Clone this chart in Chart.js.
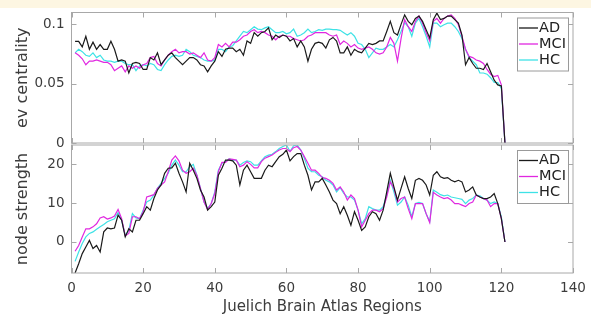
<!DOCTYPE html>
<html>
<head>
<meta charset="utf-8">
<title>Juelich Brain Atlas Regions</title>
<script src="https://cdn.jsdelivr.net/npm/chart.js@4/dist/chart.umd.min.js"></script>
<style>
    body { margin: 0; background: #fff; }
    #wrap { position: relative; width: 591px; height: 316px; overflow: hidden; }
    #band { position: absolute; left: 0; top: 0; width: 591px; height: 8px; background: #fdf6e2; }
    #topBox { position: absolute; left: 0; top: 0; width: 591px; height: 160px; }
    #bottomBox { position: absolute; left: 0; top: 143px; width: 591px; height: 173px; }
</style>
</head>
<body>
<div id="wrap">
    <div id="band"></div>
    <div id="topBox"><canvas id="topChart"></canvas></div>
    <div id="bottomBox"><canvas id="bottomChart"></canvas></div>
</div>
<script>
// region index ticks and y ticks
const xTicks = [0, 20, 40, 60, 80, 100, 120, 140];
const centralityTicks = [0, 0.05, 0.1];
const strengthTicks = [0, 10, 20];
const groups = ["AD", "MCI", "HC"];
const groupColors = ["#1a1a1a", "#e028e0", "#3ee2e6"];

// ev centrality per region (1..121)
const adCentrality = [
    0.0857, 0.0857, 0.081, 0.090, 0.079, 0.085, 0.079, 0.083, 0.079, 0.079,
    0.0857, 0.079, 0.069, 0.070, 0.069, 0.059, 0.067, 0.068, 0.067, 0.062,
    0.062, 0.072, 0.070, 0.076, 0.066, 0.070, 0.074, 0.076, 0.072, 0.069,
    0.066, 0.069, 0.072, 0.072, 0.070, 0.066, 0.065, 0.060, 0.065, 0.069,
    0.077, 0.073, 0.079, 0.080, 0.080, 0.077, 0.079, 0.074, 0.086, 0.084,
    0.093, 0.090, 0.093, 0.094, 0.097, 0.087, 0.091, 0.089, 0.091, 0.090,
    0.086, 0.088, 0.081, 0.086, 0.081, 0.069, 0.079, 0.084, 0.085, 0.084,
    0.080, 0.087, 0.089, 0.086, 0.076, 0.076, 0.081, 0.074, 0.079, 0.077,
    0.076, 0.080, 0.084, 0.083, 0.084, 0.086, 0.086, 0.094, 0.1025, 0.093,
    0.091, 0.100, 0.108, 0.1025, 0.0997, 0.105, 0.107, 0.1025, 0.0955, 0.0885,
    0.104, 0.1095, 0.104, 0.105, 0.107, 0.107, 0.104, 0.101, 0.091, 0.066,
    0.072, 0.067, 0.063, 0.063, 0.062, 0.067, 0.060, 0.053, 0.049, 0.048,
    0
];
const mciCentrality = [
    0.076, 0.074, 0.071, 0.066, 0.069, 0.069, 0.070, 0.069, 0.068, 0.068,
    0.066, 0.061, 0.063, 0.065, 0.060, 0.065, 0.063, 0.065, 0.063, 0.066,
    0.067, 0.072, 0.073, 0.067, 0.065, 0.070, 0.074, 0.077, 0.079, 0.076,
    0.077, 0.077, 0.075, 0.076, 0.074, 0.072, 0.076, 0.070, 0.069, 0.072,
    0.083, 0.081, 0.084, 0.081, 0.085, 0.085, 0.087, 0.090, 0.091, 0.094,
    0.0955, 0.093, 0.094, 0.093, 0.091, 0.090, 0.087, 0.090, 0.091, 0.090,
    0.090, 0.088, 0.087, 0.086, 0.087, 0.090, 0.091, 0.093, 0.093, 0.093,
    0.093, 0.091, 0.090, 0.091, 0.083, 0.086, 0.084, 0.081, 0.083, 0.080,
    0.079, 0.080, 0.081, 0.079, 0.076, 0.075, 0.076, 0.081, 0.089, 0.084,
    0.069, 0.088, 0.104, 0.098, 0.094, 0.1025, 0.107, 0.101, 0.093, 0.086,
    0.1025, 0.105, 0.101, 0.105, 0.107, 0.108, 0.105, 0.0997, 0.090, 0.079,
    0.073, 0.072, 0.070, 0.069, 0.067, 0.062, 0.058, 0.056, 0.057, 0.049,
    0
];
const hcCentrality = [
    0.076, 0.079, 0.077, 0.074, 0.073, 0.076, 0.072, 0.074, 0.070, 0.069,
    0.069, 0.068, 0.069, 0.069, 0.067, 0.066, 0.066, 0.061, 0.065, 0.066,
    0.065, 0.067, 0.066, 0.062, 0.061, 0.066, 0.070, 0.073, 0.074, 0.073,
    0.074, 0.079, 0.077, 0.074, 0.073, 0.072, 0.070, 0.069, 0.069, 0.070,
    0.079, 0.079, 0.077, 0.081, 0.082, 0.086, 0.090, 0.094, 0.093, 0.0955,
    0.098, 0.096, 0.0955, 0.097, 0.098, 0.0955, 0.093, 0.093, 0.094, 0.092,
    0.093, 0.096, 0.090, 0.091, 0.093, 0.096, 0.093, 0.094, 0.0955, 0.095,
    0.096, 0.096, 0.0955, 0.0955, 0.095, 0.093, 0.091, 0.093, 0.090, 0.084,
    0.083, 0.079, 0.072, 0.076, 0.080, 0.079, 0.079, 0.081, 0.083, 0.081,
    0.087, 0.094, 0.1015, 0.098, 0.090, 0.101, 0.105, 0.098, 0.090, 0.081,
    0.101, 0.101, 0.098, 0.0997, 0.101, 0.101, 0.098, 0.094, 0.088, 0.079,
    0.072, 0.069, 0.066, 0.059, 0.059, 0.058, 0.055, 0.051, 0.051, 0.046,
    0
];

// node strength per region (1..121)
const adStrength = [
    -8, -5.6, -3.0, -1.3, 0.4, -1.7, -0.9, -2.6, 2.6, 3.6,
    3.4, 3.6, 6.9, 5.6, 1.3, 3.4, 2.6, 5.6, 5.6, 7.3,
    9.1, 8.2, 11.2, 13.4, 14.7, 17.7, 19.0, 19.1, 20.3, 17.7,
    15.5, 12.9, 20.3, 18.5, 16.4, 13.4, 11.6, 8.2, 9.1, 10.3,
    17.2, 19.0, 21.1, 21.1, 20.9, 19.8, 14.7, 18.5, 19.8, 18.1,
    16.4, 16.4, 16.4, 18.5, 19.8, 19.4, 20.7, 22.0, 22.6, 23.7,
    20.9, 22.0, 22.8, 22.8, 19.8, 17.2, 13.4, 15.5, 15.5, 16.4,
    14.7, 12.9, 10.8, 9.9, 7.3, 9.1, 6.9, 4.3, 7.8, 5.6,
    3.0, 3.9, 6.5, 7.8, 7.3, 5.6, 8.2, 12.9, 17.7, 14.2,
    10.8, 13.8, 16.8, 13.8, 11.2, 15.9, 16.4, 15.9, 14.7, 12.1,
    17.2, 18.1, 16.8, 16.4, 16.6, 15.9, 15.5, 15.9, 15.5, 12.9,
    13.4, 14.2, 12.1, 11.6, 11.2, 11.2, 11.6, 12.5, 9.9, 6.0,
    0
];
const mciStrength = [
    -2.4, -0.9, 1.3, 3.4, 3.4, 3.9, 4.7, 6.2, 6.5, 5.9,
    6.2, 6.7, 8.4, 6.0, 1.6, 2.2, 6.5, 6.5, 6.0, 7.8,
    11.6, 11.9, 12.2, 13.8, 14.7, 15.5, 18.1, 21.1, 22.2, 20.9,
    18.5, 17.7, 18.1, 19.0, 17.2, 13.8, 10.3, 8.4, 9.9, 12.5,
    18.1, 20.5, 20.5, 21.4, 21.3, 21.1, 19.4, 19.8, 20.7, 20.0,
    19.1, 19.1, 20.7, 21.6, 22.0, 22.4, 23.1, 23.7, 24.1, 24.1,
    23.3, 24.3, 24.6, 23.7, 22.0, 20.3, 18.5, 18.5, 17.7, 16.6,
    16.4, 15.9, 15.1, 13.4, 14.2, 12.9, 10.8, 12.1, 11.2, 8.2,
    3.9, 5.6, 7.3, 8.2, 8.2, 7.8, 8.6, 11.6, 15.5, 13.8,
    10.3, 11.2, 11.6, 8.6, 6.0, 9.9, 9.9, 9.9, 7.3, 5.0,
    12.8, 12.1, 11.6, 11.2, 11.4, 10.8, 9.9, 9.9, 9.5, 9.1,
    9.9, 10.3, 12.1, 11.6, 11.2, 10.8, 9.1, 9.9, 9.9, 6.0,
    0
];
const hcStrength = [
    -5, -2.6, -0.4, 1.3, 2.2, 2.6, 3.3, 3.9, 4.5, 5.2,
    5.6, 6.0, 7.6, 5.6, 1.7, 3.0, 7.3, 6.2, 6.0, 8.2,
    10.3, 10.8, 12.1, 13.8, 15.1, 16.4, 17.7, 19.8, 21.1, 19.8,
    18.1, 18.1, 19.4, 20.0, 17.2, 13.8, 10.3, 8.6, 9.9, 12.9,
    18.5, 20.3, 20.7, 21.4, 21.1, 21.1, 19.8, 20.5, 20.9, 20.7,
    19.8, 19.8, 20.9, 22.0, 22.4, 22.6, 23.3, 24.1, 24.6, 25.0,
    23.4, 24.8, 25.0, 23.7, 21.6, 19.0, 18.1, 18.1, 17.2, 16.8,
    15.9, 15.5, 14.7, 12.9, 14.0, 12.5, 11.6, 11.6, 10.8, 8.2,
    4.7, 6.0, 9.1, 8.6, 8.2, 8.2, 9.1, 12.1, 15.9, 12.9,
    9.5, 10.3, 11.6, 9.5, 6.5, 9.9, 10.2, 9.9, 7.3, 5.2,
    13.4, 12.8, 12.2, 11.9, 12.1, 11.6, 11.4, 11.2, 11.0, 9.9,
    10.8, 11.2, 12.1, 11.9, 11.2, 10.8, 9.9, 10.3, 9.9, 6.5,
    0
];

const regions = adCentrality.map((_, k) => k + 1);
const fontFamily = "'DejaVu Sans', sans-serif";
const frameColor = "#a8a8a8";
const textColor = "#3c3c3c";

/** Box around the axes with MATLAB style inward ticks */
const frameTicks = {
    id: "frameTicks",
    afterDatasetsDraw(chart, args, opts) {
        const { ctx, chartArea: a, scales } = chart;
        const len = 5;
        ctx.save();
        ctx.strokeStyle = frameColor;
        ctx.lineWidth = 1;
        ctx.strokeRect(a.left, a.top, a.width, a.height);
        ctx.beginPath();
        xTicks.forEach((v) => {
            const px = Math.round(scales.x.getPixelForValue(v)) + 0.5;
            ctx.moveTo(px, a.bottom);
            ctx.lineTo(px, a.bottom - len);
            ctx.moveTo(px, a.top);
            ctx.lineTo(px, a.top + len);
        });
        opts.yTicks.forEach((v) => {
            const py = Math.round(scales.y.getPixelForValue(v)) + 0.5;
            ctx.moveTo(a.left, py);
            ctx.lineTo(a.left + len, py);
            ctx.moveTo(a.right, py);
            ctx.lineTo(a.right - len, py);
        });
        ctx.stroke();
        ctx.restore();
    },
};

/** Legend box in the top right corner of the axes */
const boxLegend = {
    id: "boxLegend",
    afterDatasetsDraw(chart) {
        const { ctx, chartArea: a } = chart;
        const w = 51;
        const h = 53;
        const x0 = a.right - 56;
        const y0 = a.top + 5;
        ctx.save();
        ctx.fillStyle = "#fff";
        ctx.fillRect(x0, y0, w, h);
        ctx.strokeStyle = "#9a9a9a";
        ctx.lineWidth = 1;
        ctx.strokeRect(x0 + 0.5, y0 + 0.5, w, h);
        ctx.font = "14.5px " + fontFamily;
        ctx.textBaseline = "middle";
        chart.data.datasets.forEach((ds, k) => {
            const y = y0 + 10.5 + k * 16;
            ctx.strokeStyle = ds.borderColor;
            ctx.lineWidth = 1.3;
            ctx.beginPath();
            ctx.moveTo(x0 + 2, y);
            ctx.lineTo(x0 + 21, y);
            ctx.stroke();
            ctx.fillStyle = "#222";
            ctx.fillText(ds.label, x0 + 22, y);
        });
        ctx.restore();
    },
};

/** Build the three group datasets of one measure */
function makeDatasets(seriesList) {
    return seriesList.map((values, g) => ({
        label: groups[g],
        data: values.map((v, k) => ({ x: regions[k], y: v })),
        borderColor: groupColors[g],
        borderWidth: 1.2,
        pointRadius: 0,
        tension: 0,
        fill: false,
    }));
}

/** One panel of the figure */
function renderPanel(canvasId, seriesList, yOpts, showX, padding) {
    const ctx = document.getElementById(canvasId).getContext("2d");
    return new Chart(ctx, {
        type: "line",
        data: { datasets: makeDatasets(seriesList) },
        options: {
            animation: false,
            responsive: true,
            maintainAspectRatio: false,
            layout: { padding },
            plugins: {
                legend: { display: false },
                tooltip: { enabled: false },
                frameTicks: { yTicks: yOpts.ticks },
            },
            scales: {
                x: {
                    type: "linear",
                    min: 0,
                    max: 140,
                    display: showX,
                    afterBuildTicks: (scale) => {
                        scale.ticks = xTicks.map((v) => ({ value: v }));
                    },
                    afterFit: (scale) => {
                        if (showX) scale.height = 43;
                        scale.paddingLeft = 0;
                        scale.paddingRight = 0;
                    },
                    grid: { display: false, drawTicks: false },
                    border: { display: false },
                    ticks: {
                        padding: 7,
                        color: textColor,
                        font: { family: fontFamily, size: 13.5 },
                        maxRotation: 0,
                    },
                    title: {
                        display: true,
                        text: "Juelich Brain Atlas Regions",
                        color: textColor,
                        font: { family: fontFamily, size: 15 },
                        padding: { top: 0, bottom: 0 },
                    },
                },
                y: {
                    min: yOpts.min,
                    max: yOpts.max,
                    afterBuildTicks: (scale) => {
                        scale.ticks = yOpts.ticks.map((v) => ({ value: v }));
                    },
                    afterFit: (scale) => {
                        scale.width = 71.5;
                        scale.paddingTop = 0;
                        scale.paddingBottom = 0;
                    },
                    grid: { display: false, drawTicks: false },
                    border: { display: false },
                    ticks: {
                        padding: 7,
                        color: textColor,
                        font: { family: fontFamily, size: 13.5 },
                        callback: (v) => String(v),
                    },
                    title: {
                        display: true,
                        text: yOpts.title,
                        color: textColor,
                        font: { family: fontFamily, size: 16 },
                        padding: { top: 13, bottom: 0 },
                    },
                },
            },
        },
        plugins: [frameTicks, boxLegend],
    });
}

renderPanel(
    "topChart",
    [adCentrality, mciCentrality, hcCentrality],
    { min: 0, max: 0.11, ticks: centralityTicks, title: "ev centrality" },
    false,
    { top: 12.5, bottom: 17, left: 0, right: 18 }
);

renderPanel(
    "bottomChart",
    [adStrength, mciStrength, hcStrength],
    { min: -8, max: 25, ticks: strengthTicks, title: "node strength" },
    true,
    { top: 2, bottom: 0, left: 0, right: 18 }
);
</script>
</body>
</html>
